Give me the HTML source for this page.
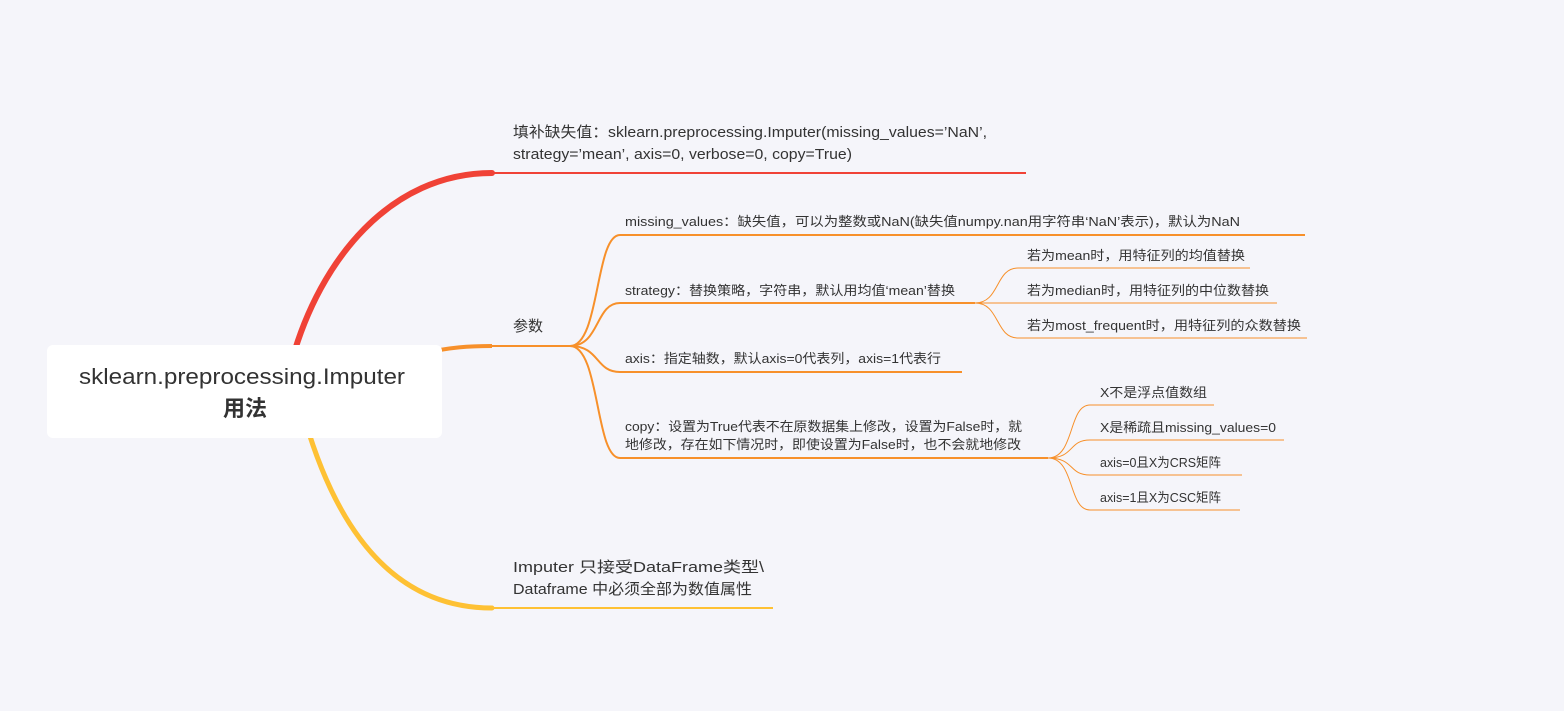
<!DOCTYPE html>
<html><head><meta charset="utf-8"><style>
html,body{margin:0;padding:0;background:#f5f5fa;}
svg{display:block}
text{font-family:"Liberation Sans","Noto Sans CJK SC",sans-serif;fill:#333;}
</style></head><body>
<svg width="1564" height="711" viewBox="0 0 1564 711" xmlns="http://www.w3.org/2000/svg">
<rect width="1564" height="711" fill="#f5f5fa"/>
<path d="M292 360 C320 260 390 173 492 173" fill="none" stroke="#f04236" stroke-width="6" stroke-linecap="round"/>
<line x1="490" y1="173" x2="1026" y2="173" stroke="#f04236" stroke-width="2"/>
<path d="M420 354 C450 347 470 346 492 346" fill="none" stroke="#f7902a" stroke-width="4"/>
<line x1="490" y1="346" x2="572" y2="346" stroke="#f7902a" stroke-width="2"/>
<path d="M305 420 C340 540 400 608 492 608" fill="none" stroke="#fec134" stroke-width="5" stroke-linecap="round"/>
<line x1="490" y1="608" x2="773" y2="608" stroke="#fec134" stroke-width="2"/>
<rect x="47" y="345" width="395" height="93" rx="6" fill="#fff"/>
<text x="79" y="384" font-size="22" textLength="326" lengthAdjust="spacingAndGlyphs" fill="#111">sklearn.preprocessing.Imputer</text>
<text x="245" y="416" font-size="22" text-anchor="middle" font-weight="bold" fill="#111">用法</text>
<text x="513" y="137" font-size="15" textLength="474" lengthAdjust="spacingAndGlyphs">填补缺失值：sklearn.preprocessing.Imputer(missing_values=’NaN’,</text>
<text x="513" y="159" font-size="15" textLength="339" lengthAdjust="spacingAndGlyphs">strategy=’mean’, axis=0, verbose=0, copy=True)</text>
<text x="513" y="331" font-size="15">参数</text>
<text x="513" y="572" font-size="15" textLength="251" lengthAdjust="spacingAndGlyphs">Imputer 只接受DataFrame类型\</text>
<text x="513" y="594" font-size="15" textLength="239" lengthAdjust="spacingAndGlyphs">Dataframe 中必须全部为数值属性</text>
<g fill="none" stroke="#f7902a" stroke-width="2">
<path d="M570 346 C600 346 595 235 620 235 L1305 235"/>
<path d="M570 346 C600 346 595 303 620 303 L975 303"/>
<path d="M570 346 C600 346 595 372 620 372 L962 372"/>
<path d="M570 346 C600 346 595 458 620 458 L1048 458"/>
</g>
<g font-size="13">
<text x="625" y="226" textLength="615" lengthAdjust="spacingAndGlyphs">missing_values：缺失值，可以为整数或NaN(缺失值numpy.nan用字符串‘NaN’表示)，默认为NaN</text>
<text x="625" y="295" textLength="330" lengthAdjust="spacingAndGlyphs">strategy：替换策略，字符串，默认用均值‘mean’替换</text>
<text x="625" y="363" textLength="316" lengthAdjust="spacingAndGlyphs">axis：指定轴数，默认axis=0代表列，axis=1代表行</text>
<text x="625" y="431" textLength="397" lengthAdjust="spacingAndGlyphs">copy：设置为True代表不在原数据集上修改，设置为False时，就</text>
<text x="625" y="449" textLength="396" lengthAdjust="spacingAndGlyphs">地修改，存在如下情况时，即使设置为False时，也不会就地修改</text>
</g>
<g fill="none" stroke="#f7902a" stroke-width="1">
<path d="M975 303 C1000 303 995 268 1018 268 L1250 268"/>
<path d="M975 303 L1277 303"/>
<path d="M975 303 C1000 303 995 338 1018 338 L1307 338"/>
<path d="M1048 458 C1075 458 1068 405 1090 405 L1214 405"/>
<path d="M1048 458 C1075 458 1068 440 1090 440 L1284 440"/>
<path d="M1048 458 C1075 458 1068 475 1090 475 L1242 475"/>
<path d="M1048 458 C1075 458 1068 510 1090 510 L1240 510"/>
</g>
<g font-size="13">
<text x="1027" y="260" textLength="218" lengthAdjust="spacingAndGlyphs">若为mean时，用特征列的均值替换</text>
<text x="1027" y="295" textLength="242" lengthAdjust="spacingAndGlyphs">若为median时，用特征列的中位数替换</text>
<text x="1027" y="330" textLength="274" lengthAdjust="spacingAndGlyphs">若为most_frequent时，用特征列的众数替换</text>
<text x="1100" y="397" textLength="107" lengthAdjust="spacingAndGlyphs">X不是浮点值数组</text>
<text x="1100" y="432" textLength="176" lengthAdjust="spacingAndGlyphs">X是稀疏且missing_values=0</text>
<text x="1100" y="467" textLength="121" lengthAdjust="spacingAndGlyphs">axis=0且X为CRS矩阵</text>
<text x="1100" y="502" textLength="121" lengthAdjust="spacingAndGlyphs">axis=1且X为CSC矩阵</text>
</g>
</svg>
</body></html>
